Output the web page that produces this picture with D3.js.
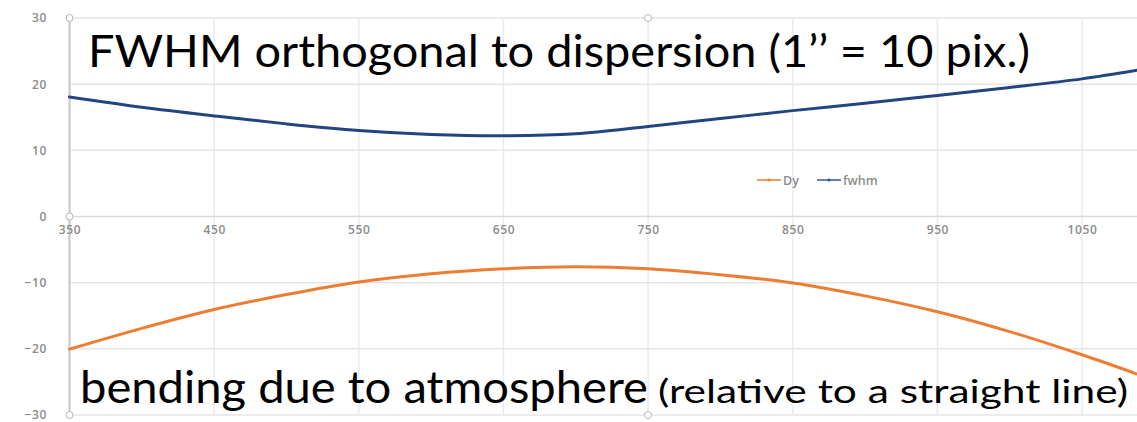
<!DOCTYPE html>
<html><head><meta charset="utf-8">
<script src="https://cdn.jsdelivr.net/npm/d3@7"></script>
<style>html,body{margin:0;padding:0;background:#fff;overflow:hidden}</style>
</head><body><svg id="c" width="1137" height="422"></svg>
<script>
const wavelengths = [350,400,450,500,550,600,650,700,750,800,850,900,950,1000,1050,1088];
const fwhm = [18.05,16.5,15.2,14.0,13.0,12.4,12.2,12.5,13.6,14.8,16.0,17.1,18.3,19.5,20.8,22.1];
const dy = [-20.05,-16.9,-14.05,-11.8,-9.9,-8.65,-7.9,-7.6,-7.9,-8.8,-10.05,-12.0,-14.4,-17.4,-20.9,-23.8];
const xTicks = [350,450,550,650,750,850,950,1050];
const yTicks = [-30,-20,-10,0,10,20,30];
const seriesNames = ["Dy","fwhm"];
const titleTop = "FWHM orthogonal to dispersion (1’’ = 10 pix.)";
const titleBottomMain = "bending due to atmosphere";
const titleBottomNote = "(relative to a straight line)";

const svg = d3.select("#c");
const x = d3.scaleLinear().domain([350,1050]).range([69.5,1082]);
const y = d3.scaleLinear().domain([-30,30]).range([415,18]);
const font = "'Open Sans', sans-serif";

// grid
const gridX = d3.range(350,1100,100);
svg.append("g").selectAll("line").data(gridX).join("line")
  .attr("x1",d=>x(d)).attr("x2",d=>x(d)).attr("y1",y(30)).attr("y2",y(-30))
  .attr("stroke","#ebebeb").attr("stroke-width",1.5);
svg.append("g").selectAll("line").data(yTicks.filter(d=>d!==0)).join("line")
  .attr("x1",x(350)).attr("x2",1137).attr("y1",d=>y(d)).attr("y2",d=>y(d))
  .attr("stroke","#e6e6e6").attr("stroke-width",1.5);
svg.append("line").attr("x1",x(350)).attr("x2",1137).attr("y1",y(0)).attr("y2",y(0))
  .attr("stroke","#d9d9d9").attr("stroke-width",1.5);
svg.append("line").attr("x1",x(350)).attr("x2",x(350)).attr("y1",y(30)).attr("y2",y(-30))
  .attr("stroke","#c8c8c8").attr("stroke-width",2);

// y labels
const ya = d3.axisLeft(y).tickValues(yTicks).tickSize(0).tickPadding(0);
const gy = svg.append("g").attr("transform",`translate(47,0)`).call(ya);
gy.select(".domain").remove();
gy.selectAll("text").attr("font-family",font).attr("font-size",12).attr("font-weight",600).attr("fill","#8c8c8c").attr("letter-spacing","0.6px");

// x labels
const xa = d3.axisBottom(x).tickValues(xTicks).tickSize(0).tickPadding(0).tickFormat(d3.format("d"));
const gx = svg.append("g").attr("transform",`translate(0,${y(0)+9})`).call(xa);
gx.select(".domain").remove();
gx.selectAll("text").attr("font-family",font).attr("font-size",12).attr("font-weight",600).attr("fill","#8c8c8c").attr("letter-spacing","0.6px");

// lines
const line = d3.line().x((d,i)=>x(wavelengths[i])).y(d=>y(d)).curve(d3.curveCatmullRom.alpha(0.5));
svg.append("path").datum(dy).attr("d",line).attr("fill","none").attr("stroke","#ED7D31").attr("stroke-width",3).attr("stroke-linecap","round");
svg.append("path").datum(fwhm).attr("d",line).attr("fill","none").attr("stroke","#23457F").attr("stroke-width",3).attr("stroke-linecap","round");

// legend
const colors = ["#ED7D31","#2F5597"];
const lg = svg.append("g").attr("transform","translate(757,180)");
const lx = [0,60];
seriesNames.forEach((n,i)=>{
  const g = lg.append("g").attr("transform",`translate(${lx[i]},0)`);
  g.append("line").attr("x1",0).attr("x2",24).attr("y1",0).attr("y2",0).attr("stroke",colors[i]).attr("stroke-width",1.5);
  g.append("circle").attr("cx",12).attr("cy",0).attr("r",1.6).attr("fill",colors[i]);
  g.append("text").attr("x",26).attr("y",4.5).text(n).attr("font-family",font).attr("font-size",12.5).attr("font-weight",600).attr("fill","#8c8c8c");
});

// handles
const handles = [[x(350),y(30)],[x(350),y(0)],[x(350),y(-30)],[648,y(30)],[648,y(-30)]];
svg.append("g").selectAll("circle").data(handles).join("circle")
  .attr("cx",d=>d[0]).attr("cy",d=>d[1]).attr("r",3.5).attr("fill","#fff").attr("stroke","#b5b5b5").attr("stroke-width",1);

// titles
const tf = "Lato, 'Open Sans', sans-serif";
svg.append("text").attr("x",88).attr("y",67).text(titleTop)
  .attr("font-family",tf).attr("font-size",44).attr("fill","#000")
  .attr("textLength",942).attr("lengthAdjust","spacingAndGlyphs");
svg.append("text").attr("x",80).attr("y",403).text(titleBottomMain)
  .attr("font-family",tf).attr("font-size",44).attr("fill","#000")
  .attr("textLength",568).attr("lengthAdjust","spacingAndGlyphs");
svg.append("text").attr("x",658).attr("y",403).text(titleBottomNote)
  .attr("font-family",tf).attr("font-size",32).attr("fill","#000")
  .attr("textLength",470).attr("lengthAdjust","spacingAndGlyphs");
</script></body></html>
